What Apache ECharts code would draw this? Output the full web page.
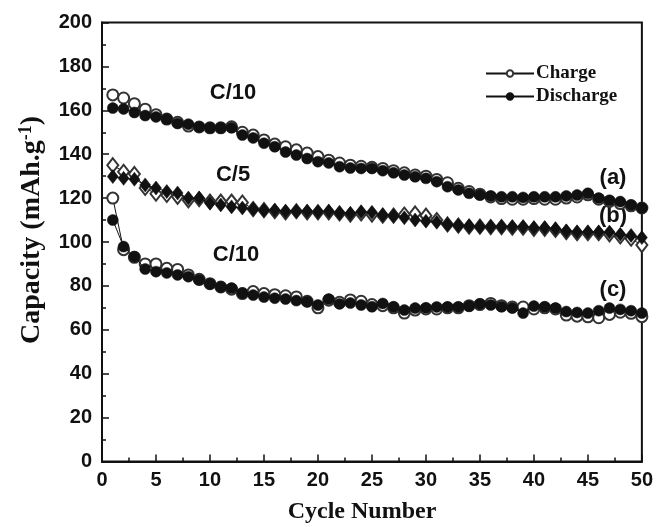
<!DOCTYPE html>
<html><head><meta charset="utf-8">
<script src="https://cdn.jsdelivr.net/npm/echarts@6/dist/echarts.min.js"></script>
<style>html,body{margin:0;padding:0;background:#fff}#c{width:656px;height:527px}</style>
</head><body><div id="c"></div>
<script>
const cycles = [1,2,3,4,5,6,7,8,9,10,11,12,13,14,15,16,17,18,19,20,21,22,23,24,25,26,27,28,29,30,31,32,33,34,35,36,37,38,39,40,41,42,43,44,45,46,47,48,49,50];
const xTicks = [0,5,10,15,20,25,30,35,40,45,50];
const yTicks = [0,20,40,60,80,100,120,140,160,180,200];

const aCharge = [167,165.6,163,160.5,158,156,154.5,152.8,152.4,152,152,152.5,150,148.7,146.5,144.6,143.4,142,140.5,138.9,137.3,136,135,134.5,134,133.5,132.5,131.5,130.5,130,128.5,127,124.5,123,121.8,120.5,119.8,119.5,119.5,119.8,119.5,119.5,120,120.5,121.5,119.5,118.5,117.5,116.5,115.5];
const aDischarge = [161,160.6,159,157.6,157,156,154,153.7,152.4,152,152,152,148.7,147.4,145,143.4,141,139.6,138,136.6,136,134.3,133.7,133.5,133.5,132.5,131.5,130.5,129.7,129,127.5,125.2,123.7,122.2,121.4,121,120.6,120.6,120.3,120.6,120.6,120.6,121,121.4,122.2,120,119,118.4,116.9,115.5];
const bCharge = [135,132,131,124.6,122,121.4,120.6,119,119.5,118.4,118.4,118.4,118,115,114.5,114,113.5,114,113.5,113.5,113.5,113,112.5,113,112.5,112,112,112.5,113,112,110,108,107.5,107,107,106.8,106.8,106.5,106.5,106,106,105.5,104.5,104,104,104,103.5,102.5,101.5,98.6];
const bDischarge = [129.8,129,128.6,126,124.6,123,122.3,120,120,117.7,116.9,116,115.5,115,114.5,114.5,114,114,114,113.8,114,113.2,113,113.8,113.5,112.3,112,111,110,109.5,109,108,107.5,107.3,107,107,107,107,107,106.5,106.5,106,105,104.6,104.6,104.5,104.5,103.5,103,102];
const cCharge = [120,96.5,93,90,90,88,87.5,85,83,81,79.5,78.5,76.5,77.4,76.5,76,75.5,75,73,70,73.5,72.5,73.6,73,71.5,71,70,67.6,69,69.5,69.5,70,70,71,71.5,72,71,70.4,70.4,69.5,70,69.5,66.7,66.2,65.9,65.5,67,68,67.5,66];
const cDischarge = [110,97.9,93.3,87.7,86.5,85.9,85,84.2,82.7,80.9,79.5,79,76.7,75.8,74.9,74.4,74,73.3,72.8,71.3,74,71.8,72.2,71.3,70.5,72,70.5,69,69.9,70,70.4,70.4,70.4,70.8,71.8,71.3,70.5,69.9,67.6,70.8,70.5,69.9,68.3,67.9,67.6,68.7,69.9,69.3,68.7,67.6];

const pts = arr => cycles.map((c,i)=>[c, arr[i]]);
const ink = '#111';
function mk(name, arr, symbol, size, filled){
  return {
    name: name, type: 'line', data: pts(arr), symbol: symbol, symbolSize: size,
    showSymbol: true, animation: false,
    lineStyle: {color: ink, width: 1},
    itemStyle: filled ? {color: ink, borderColor: ink, borderWidth: 0.5} : {color: '#333', borderColor: '#333', borderWidth: 1.2},
    z: filled ? 3 : 2
  };
}
const serif = '"Liberation Serif","Times New Roman",serif';
const sans = '"Liberation Sans",Arial,sans-serif';

const chart = echarts.init(document.getElementById('c'));
chart.setOption({
  backgroundColor: '#fff',
  animation: false,
  grid: {left: 102, right: 14, top: 22.5, bottom: 65.5, show: true, borderColor: ink, borderWidth: 2, backgroundColor: 'transparent'},
  xAxis: {
    type: 'value', min: xTicks[0], max: xTicks[xTicks.length-1], interval: xTicks[1]-xTicks[0],
    axisLine: {lineStyle: {color: ink, width: 2}},
    axisTick: {inside: true, length: 7, lineStyle: {color: ink, width: 1.5}},
    minorTick: {show: true, splitNumber: 2, length: 4, lineStyle: {color: ink, width: 1.5}},
    splitLine: {show: false},
    axisLabel: {color: ink, fontFamily: sans, fontWeight: 'bold', fontSize: 20, margin: 9}
  },
  yAxis: {
    type: 'value', min: yTicks[0], max: yTicks[yTicks.length-1], interval: yTicks[1]-yTicks[0],
    axisLine: {lineStyle: {color: ink, width: 2}},
    axisTick: {inside: true, length: 7, lineStyle: {color: ink, width: 1.5}},
    minorTick: {show: true, splitNumber: 2, length: 4, lineStyle: {color: ink, width: 1.5}},
    splitLine: {show: false},
    axisLabel: {color: ink, fontFamily: sans, fontWeight: 'bold', fontSize: 20, margin: 10}
  },
  legend: {
    data: ['Charge', 'Discharge'], orient: 'vertical', left: 480, top: 59,
    itemWidth: 48, itemHeight: 8, itemGap: 4,
    textStyle: {fontFamily: serif, fontWeight: 'bold', fontSize: 19, color: ink, padding: [0,0,0,-3]},
    selectedMode: false
  },
  series: [
    mk('Charge', aCharge, 'emptyCircle', 11, false),
    mk('Charge', bCharge, 'emptyDiamond', [11,14], false),
    mk('Charge', cCharge, 'emptyCircle', 11, false),
    mk('Discharge', aDischarge, 'circle', 11, true),
    mk('Discharge', bDischarge, 'diamond', [11,14], true),
    mk('Discharge', cDischarge, 'circle', 11, true)
  ],
  graphic: [
    {type: 'text', rotation: Math.PI/2, style: {
      text: '{a|Capacity (mAh.g}{s|-1}{a|)}', fill: ink,
      rich: {a: {fontFamily: serif, fontWeight: 'bold', fontSize: 28, fill: ink, lineHeight: 30},
             s: {fontFamily: serif, fontWeight: 'bold', fontSize: 18, fill: ink, verticalAlign: 'top', lineHeight: 30}}
    }, x: 17, y: 344},
    {type: 'text', style: {text: 'Cycle Number', font: 'bold 24px ' + serif, fill: ink, textAlign: 'center', textVerticalAlign: 'middle'}, x: 362, y: 512},
    {type: 'text', x: 233, y: 93, style: {text: 'C/10', font: 'bold 22px ' + sans, fill: ink, textAlign: 'center', textVerticalAlign: 'middle'}},
    {type: 'text', x: 233, y: 175, style: {text: 'C/5', font: 'bold 22px ' + sans, fill: ink, textAlign: 'center', textVerticalAlign: 'middle'}},
    {type: 'text', x: 236, y: 255, style: {text: 'C/10', font: 'bold 22px ' + sans, fill: ink, textAlign: 'center', textVerticalAlign: 'middle'}},
    {type: 'text', x: 613, y: 178, style: {text: '(a)', font: 'bold 22px ' + sans, fill: ink, textAlign: 'center', textVerticalAlign: 'middle'}},
    {type: 'text', x: 613, y: 216, style: {text: '(b)', font: 'bold 22px ' + sans, fill: ink, textAlign: 'center', textVerticalAlign: 'middle'}},
    {type: 'text', x: 613, y: 290, style: {text: '(c)', font: 'bold 22px ' + sans, fill: ink, textAlign: 'center', textVerticalAlign: 'middle'}}
  ]
});
</script></body></html>
